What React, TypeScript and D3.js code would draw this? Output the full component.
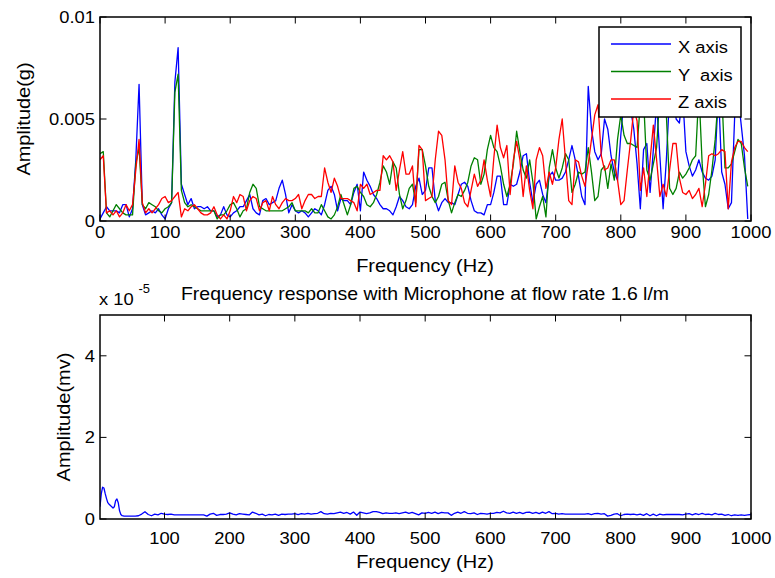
import React from "react";
import * as d3 from "d3";

// Frequency bins of the accelerometer spectra (Hz)
const accFreq: number[] = d3.range(0, 1000, 5);

// Amplitudes in units of 1e-3 g, one value per 5 Hz bin (0..995 Hz)
const xAxisAmp: number[] = [
  0.1,0.4,0.7,0.5,0.5,0.5,0.4,0.8,0.8,0.2, 0.6,3.0,6.7,0.8,0.3,0.4,0.5,0.4,0.6,0.3,
  0.1,0.6,0.9,6.8,8.5,1.8,1.3,0.8,1.1,0.6, 0.7,0.7,0.6,0.7,0.5,0.5,0.2,0.3,0.7,0.3,
  0.2,0.4,0.5,0.7,0.7,1.0,1.3,0.6,0.4,0.3, 1.0,1.1,0.8,0.9,1.0,1.6,2.0,1.3,0.4,0.8,
  0.5,0.4,0.5,0.4,0.2,0.4,0.6,0.5,0.3,0.8, 1.5,1.7,1.3,0.5,1.1,1.0,1.0,0.8,1.4,1.8,
  0.5,2.4,2.0,1.7,1.3,1.1,0.8,0.6,0.6,0.5, 0.3,0.7,1.2,1.0,0.7,0.6,0.8,1.7,2.1,1.3,
  1.5,2.6,2.6,1.0,0.5,0.9,1.1,0.9,0.9,0.8, 1.3,1.8,1.9,1.7,1.0,0.5,0.4,0.4,0.3,0.8,
  0.8,1.4,2.2,2.2,0.8,0.8,1.8,1.7,1.8,2.4, 3.2,3.3,1.9,0.9,1.8,2.0,1.3,0.9,2.2,2.4,
  2.0,2.0,2.1,2.4,3.0,3.7,3.0,2.2,1.2,0.8, 6.6,4.5,3.4,3.0,3.3,5.0,4.5,3.2,2.4,2.0,
  4.2,6.0,6.8,5.5,4.5,2.8,0.6,3.5,3.8,1.4, 3.5,5.8,3.2,0.6,3.0,6.2,6.6,5.0,4.8,6.2,
  3.4,2.7,2.2,2.5,3.0,2.4,2.1,2.0,2.2,3.0, 6.4,2.4,1.8,0.6,0.9,5.2,6.2,4.7,3.2,0.1,
];
const yAxisAmp: number[] = [
  3.3,3.4,0.4,0.2,0.5,0.8,0.6,0.4,0.3,0.3, 0.3,2.8,3.6,0.8,0.6,0.9,0.8,0.7,0.5,0.4,
  0.6,0.7,0.9,6.3,7.2,1.5,0.9,0.7,0.8,0.7, 0.6,0.5,0.5,0.5,0.5,0.5,0.1,0.3,0.3,0.5,
  0.8,0.9,0.6,0.2,0.5,0.6,1.4,1.8,1.6,0.7, 0.6,0.5,0.5,0.5,0.5,0.5,0.5,0.6,0.7,0.9,
  0.5,0.5,0.5,0.5,0.4,0.6,0.4,0.4,0.8,0.5, 0.2,0.1,0.3,0.7,1.3,0.8,0.3,0.8,1.6,1.7,
  1.4,1.2,0.8,0.7,0.9,1.3,1.9,2.7,2.4,1.8, 2.9,2.6,1.3,0.6,1.0,1.6,1.8,0.9,3.5,3.5,
  2.7,1.7,1.2,0.9,1.2,1.8,1.9,1.0,0.4,0.9, 1.3,1.2,1.5,1.9,2.7,3.1,3.0,1.8,2.3,3.5,
  4.2,3.6,3.4,2.7,1.8,1.2,1.8,2.8,4.4,3.4, 2.5,2.1,3.0,1.9,0.1,0.7,1.2,0.2,2.6,3.5,
  2.6,2.1,2.6,3.3,3.0,1.4,1.8,2.4,2.3,2.4, 3.6,2.4,1.0,1.2,2.5,2.7,1.6,2.8,2.0,4.0,
  5.2,4.2,3.8,3.8,3.7,3.6,5.8,6.0,2.5,2.0, 2.8,3.6,6.2,6.6,5.2,1.6,1.3,1.6,2.4,2.1,
  2.3,2.6,3.0,3.2,6.4,2.8,0.7,1.3,2.5,4.0, 6.2,6.4,2.6,2.6,2.8,3.4,4.0,3.8,2.6,1.7,
];
const zAxisAmp: number[] = [
  3.0,3.2,0.4,0.5,0.3,0.5,0.2,0.4,0.8,0.5, 0.8,2.5,4.0,0.9,0.4,0.6,0.4,0.6,0.8,1.1,
  1.2,0.9,1.0,1.2,1.4,0.2,0.6,0.5,0.7,0.8, 0.6,0.4,0.3,0.3,0.4,0.7,0.3,0.1,0.3,0.1,
  0.5,1.2,0.9,1.3,1.2,0.5,1.0,1.2,1.1,0.5, 0.9,1.0,0.5,1.2,0.8,0.6,0.9,1.1,1.0,1.0,
  1.1,1.3,0.6,1.0,1.3,1.3,1.1,1.2,1.2,2.6, 1.9,1.4,2.1,1.7,1.1,1.1,1.1,1.0,0.9,0.5,
  1.8,1.6,1.8,1.3,1.4,1.5,1.5,3.2,3.0,3.2, 2.9,1.5,2.5,3.4,2.3,2.3,2.7,0.7,3.7,3.5,
  1.0,1.1,1.2,3.0,4.4,4.2,3.0,1.0,0.8,2.7, 1.9,1.6,0.9,0.7,1.5,2.3,1.7,2.0,3.0,2.0,
  1.2,3.1,4.7,3.6,3.1,3.7,1.3,3.0,3.9,3.0, 1.2,2.7,1.5,0.6,3.0,3.6,3.2,1.6,2.4,1.8,
  2.6,4.0,5.0,3.0,1.0,0.8,3.0,2.9,2.2,1.7, 2.8,4.0,5.2,5.7,3.2,2.5,2.6,3.0,3.0,2.0,
  0.8,1.0,2.5,3.9,5.5,4.9,1.5,2.6,1.2,3.0, 4.7,3.0,1.2,1.8,1.2,2.5,3.8,3.8,2.1,1.4,
  1.3,1.5,1.1,1.3,1.6,0.7,1.8,3.2,3.3,3.2, 3.3,3.5,3.4,0.6,2.9,3.6,3.9,3.9,3.6,3.4,
];

// Microphone spectrum: frequency (Hz) and amplitude (units of 1e-5 mv)
const micFreq: number[] = [1,3,5,7,9,11,13,15,17,19,21,23,25,27,29,31,33,35,38,41,45].concat(d3.range(50, 1001, 5));
const micAmp: number[] = [
  0.30,0.62,0.78,0.76,0.62,0.50,0.40,0.36,0.33,0.30,0.27,0.30,0.45,0.49,0.40,0.20,0.11,0.08,0.07,0.07,0.07,
  0.07,0.07,0.08,0.12,0.18,0.11,0.08,0.12,0.10,0.14,
  0.12,0.11,0.12,0.10,0.10,0.10,0.10,0.10,0.10,0.10,0.10,0.10,0.10,0.07,0.12,0.14,0.09,0.11,0.11,0.12,
  0.15,0.12,0.10,0.13,0.12,0.11,0.10,0.17,0.14,0.10,0.12,0.08,0.11,0.10,0.12,0.09,0.12,0.11,0.12,0.12,
  0.13,0.11,0.13,0.12,0.14,0.12,0.13,0.14,0.18,0.13,0.12,0.14,0.13,0.15,0.17,0.14,0.16,0.12,0.17,0.09,
  0.17,0.15,0.13,0.15,0.18,0.18,0.16,0.13,0.15,0.14,0.14,0.15,0.13,0.15,0.17,0.14,0.16,0.13,0.10,0.15,
  0.14,0.16,0.14,0.17,0.13,0.16,0.15,0.15,0.09,0.14,0.17,0.14,0.18,0.14,0.13,0.15,0.11,0.14,0.13,0.12,
  0.14,0.14,0.16,0.15,0.19,0.15,0.14,0.17,0.14,0.16,0.13,0.16,0.17,0.14,0.16,0.13,0.17,0.14,0.18,0.13,
  0.14,0.12,0.13,0.12,0.12,0.12,0.12,0.12,0.12,0.12,0.13,0.11,0.13,0.14,0.12,0.13,0.07,0.09,0.12,0.13,
  0.08,0.11,0.12,0.11,0.12,0.10,0.12,0.09,0.13,0.08,0.12,0.08,0.12,0.10,0.11,0.11,0.11,0.11,0.11,0.10,
  0.12,0.13,0.10,0.13,0.11,0.14,0.11,0.12,0.10,0.14,0.11,0.12,0.09,0.11,0.08,0.10,0.09,0.10,0.09,0.10,
  0.11,
];

const topXTicks = [0,100,200,300,400,500,600,700,800,900,1000];
const topYTicks = [0, 0.005, 0.01];
const topYLabels = ["0", "0.005", "0.01"];
const botXTicks = [100,200,300,400,500,600,700,800,900,1000];
const botYTicks = [0, 2, 4];

const seriesNames = ["X axis", "Y  axis", "Z axis"];
const seriesColors = ["#0000ff", "#008000", "#ff0000"];

const FONT = "'Liberation Sans', Arial, Helvetica, sans-serif";
const SX = 1.08;

function Txt(props: { x: number; y: number; size: number; anchor?: string; rot?: number; children: React.ReactNode }) {
  const { x, y, size, anchor = "middle", rot = 0, children } = props;
  const t = `translate(${x},${y})` + (rot ? ` rotate(${rot})` : "") + ` scale(${SX},1)`;
  return (
    <text transform={t} fontSize={size} textAnchor={anchor} fontFamily={FONT} fill="#000">
      {children}
    </text>
  );
}

const L = 100, R = 751;
const T1 = 17, B1 = 221;
const T2 = 315, B2 = 519;
const TICK = 6.5;

export default function App() {
  const x1 = d3.scaleLinear().domain([0, 1000]).range([L, R]);
  const y1 = d3.scaleLinear().domain([0, 0.01]).range([B1, T1]);
  const x2 = d3.scaleLinear().domain([1, 1000]).range([L, R]);
  const y2 = d3.scaleLinear().domain([0, 5]).range([B2, T2]);

  const series = [xAxisAmp, yAxisAmp, zAxisAmp];
  const line1 = d3.line<number>().x((_, i) => x1(accFreq[i])).y((v) => y1(v / 1000));
  const line2 = d3.line<number>().x((_, i) => x2(micFreq[i])).y((v) => y2(v));

  const legRows = [44, 71.5, 99];

  return (
    <svg width={775} height={578} style={{ display: "block", position: "absolute", left: 0, top: 0 }}>
      <rect x={0} y={0} width={775} height={578} fill="#fff" />
      <defs>
        <clipPath id="c1"><rect x={L} y={T1} width={R - L} height={B1 - T1} /></clipPath>
        <clipPath id="c2"><rect x={L} y={T2} width={R - L} height={B2 - T2} /></clipPath>
      </defs>

      {/* Top plot */}
      <g clipPath="url(#c1)">
        {series.map((s, k) => (
          <path key={k} d={line1(s) || ""} fill="none" stroke={seriesColors[k]} strokeWidth={1.3} strokeLinejoin="round" />
        ))}
      </g>
      <g stroke="#000" strokeWidth={1}>
        {topXTicks.map((t) => (
          <g key={t}>
            <line x1={x1(t)} x2={x1(t)} y1={B1} y2={B1 - TICK} />
            <line x1={x1(t)} x2={x1(t)} y1={T1} y2={T1 + TICK} />
          </g>
        ))}
        {topYTicks.map((t) => (
          <g key={t}>
            <line x1={L} x2={L + TICK} y1={y1(t)} y2={y1(t)} />
            <line x1={R} x2={R - TICK} y1={y1(t)} y2={y1(t)} />
          </g>
        ))}
      </g>
      <rect x={L} y={T1} width={R - L} height={B1 - T1} fill="none" stroke="#000" strokeWidth={1.5} />
      {topXTicks.map((t) => (
        <Txt key={t} x={x1(t)} y={237.5} size={17}>{t}</Txt>
      ))}
      {topYTicks.map((t, i) => (
        <Txt key={t} x={95} y={y1(t) + 6} size={17} anchor="end">{topYLabels[i]}</Txt>
      ))}
      <Txt x={425} y={271.5} size={18.5}>Frequency (Hz)</Txt>
      <Txt x={30} y={119} size={18.5} rot={-90}>Amplitude(g)</Txt>

      {/* Legend */}
      <rect x={599} y={27} width={142} height={90} fill="#fff" stroke="#000" strokeWidth={1.5} />
      {seriesNames.map((n, k) => (
        <g key={n}>
          <line x1={611} x2={671} y1={legRows[k]} y2={legRows[k]} stroke={seriesColors[k]} strokeWidth={1.3} />
          <text transform={`translate(678,${legRows[k] + 9}) scale(${SX},1)`} fontSize={17} fontFamily={FONT} style={{ whiteSpace: "pre" }}>{n}</text>
        </g>
      ))}

      {/* Bottom plot */}
      <Txt x={425} y={300} size={18}>Frequency response with Microphone at flow rate 1.6 l/m</Txt>
      <Txt x={99} y={305} size={17} anchor="start">x 10</Txt>
      <Txt x={138.5} y={293} size={12} anchor="start">-5</Txt>
      <g clipPath="url(#c2)">
        <path d={line2(micAmp) || ""} fill="none" stroke="#0000ff" strokeWidth={1.3} strokeLinejoin="round" />
      </g>
      <g stroke="#000" strokeWidth={1}>
        {botXTicks.map((t) => (
          <g key={t}>
            <line x1={x2(t)} x2={x2(t)} y1={B2} y2={B2 - TICK} />
            <line x1={x2(t)} x2={x2(t)} y1={T2} y2={T2 + TICK} />
          </g>
        ))}
        {botYTicks.map((t) => (
          <g key={t}>
            <line x1={L} x2={L + TICK} y1={y2(t)} y2={y2(t)} />
            <line x1={R} x2={R - TICK} y1={y2(t)} y2={y2(t)} />
          </g>
        ))}
      </g>
      <rect x={L} y={T2} width={R - L} height={B2 - T2} fill="none" stroke="#000" strokeWidth={1.5} />
      {botXTicks.map((t) => (
        <Txt key={t} x={x2(t)} y={544} size={17}>{t}</Txt>
      ))}
      {botYTicks.map((t) => (
        <Txt key={t} x={95} y={y2(t) + 6} size={17} anchor="end">{t}</Txt>
      ))}
      <Txt x={425} y={568} size={18.5}>Frequency (Hz)</Txt>
      <Txt x={70} y={417} size={18.5} rot={-90}>Amplitude(mv)</Txt>
    </svg>
  );
}
